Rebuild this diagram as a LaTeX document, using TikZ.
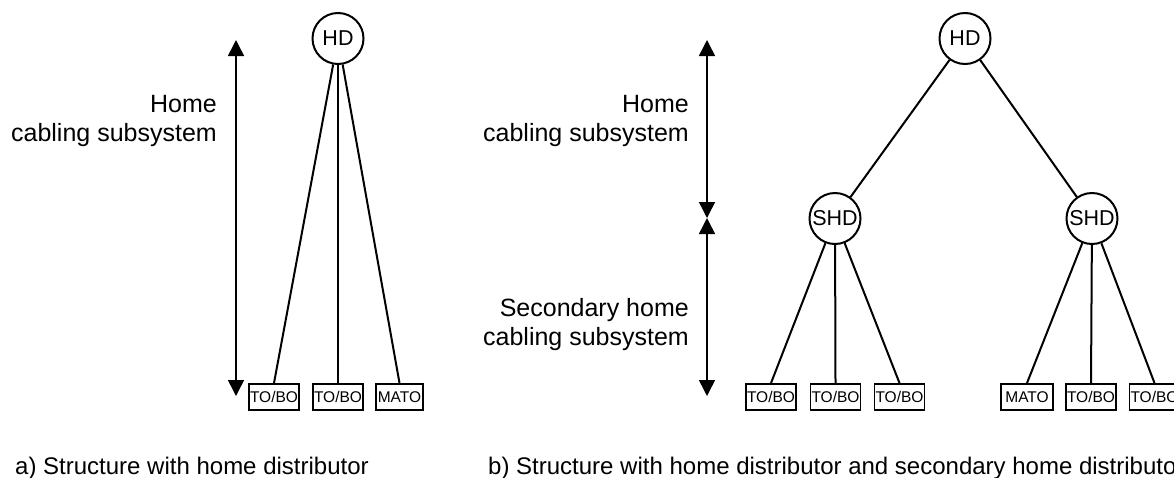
\documentclass[tikz,border=0pt]{standalone}
\usepackage{fontspec}
\setmainfont{Liberation Sans}
\usetikzlibrary{arrows.meta}
\begin{document}
\begin{tikzpicture}[x=1pt,y=-1pt,
  dist/.style={circle,draw,line width=2pt,minimum size=51pt,inner sep=0pt,font=\fontsize{21.5}{24}\selectfont},
  outlet/.style={draw,line width=1.9pt,minimum width=50pt,minimum height=26pt,inner sep=0pt,font=\fontsize{15.5}{17}\selectfont},
  cable/.style={line width=2pt},
  span/.style={line width=1.5pt,{Triangle[width=16pt,length=16pt]}-{Triangle[width=16pt,length=16pt]}},
  lbl/.style={inner sep=0pt,anchor=north east,align=right,font=\fontsize{25}{29}\selectfont},
  captxt/.style={inner sep=0pt,anchor=base west,font=\fontsize{24}{29}\selectfont}]
\useasboundingbox (0,0) rectangle (1174,477);
% ---------- a) ----------
\node[dist] (hdA) at (338,38.5) {HD};
\node[outlet] (a1) at (274,397) {TO/BO};
\node[outlet] (a2) at (338,397) {TO/BO};
\node[outlet,minimum width=47pt] (a3) at (399.5,397) {MATO};
\draw[cable] (hdA) -- (a1.north);
\draw[cable] (hdA) -- (a2.north);
\draw[cable] (hdA) -- (a3.north);
\coordinate (aTop) at (236,40);
\coordinate (aBot) at (236,396);
\draw[span] (aTop) -- (aBot);
\node[lbl] (la) at (217,95) {Home\\cabling subsystem};
\node[captxt] (capA) at (15,474) {a) Structure with home distributor};
% ---------- b) ----------
\node[dist] (hdB) at (965,38.5) {HD};
\node[dist] (shd1) at (835,218.5) {SHD};
\node[dist] (shd2) at (1092,218.5) {SHD};
\draw[cable] (hdB) -- (shd1);
\draw[cable] (hdB) -- (shd2);
\node[outlet] (b1) at (771,397) {TO/BO};
\node[outlet] (b2) at (835.5,397) {TO/BO};
\node[outlet] (b3) at (899.5,397) {TO/BO};
\node[outlet,minimum width=52pt] (b4) at (1027,397) {MATO};
\node[outlet] (b5) at (1091,397) {TO/BO};
\node[outlet] (b6) at (1154.5,397) {TO/BO};
\draw[cable] (shd1) -- (b1.north);
\draw[cable] (shd1) -- (b2.north);
\draw[cable] (shd1) -- (b3.north);
\draw[cable] (shd2) -- (b4.north);
\draw[cable] (shd2) -- (b5.north);
\draw[cable] (shd2) -- (b6.north);
\coordinate (bTop) at (707,40);
\coordinate (bMid) at (707,218);
\coordinate (bBot) at (707,396);
\draw[span] (bTop) -- (bMid);
\draw[span] (bMid) -- (bBot);
\node[lbl] (lb1) at (689,95) {Home\\cabling subsystem};
\node[lbl] (lb2) at (689,298) {Secondary home\\cabling subsystem};
\node[captxt] (capB) at (488,474) {b) Structure with home distributor and secondary home distributor};
\end{tikzpicture}
\end{document}
